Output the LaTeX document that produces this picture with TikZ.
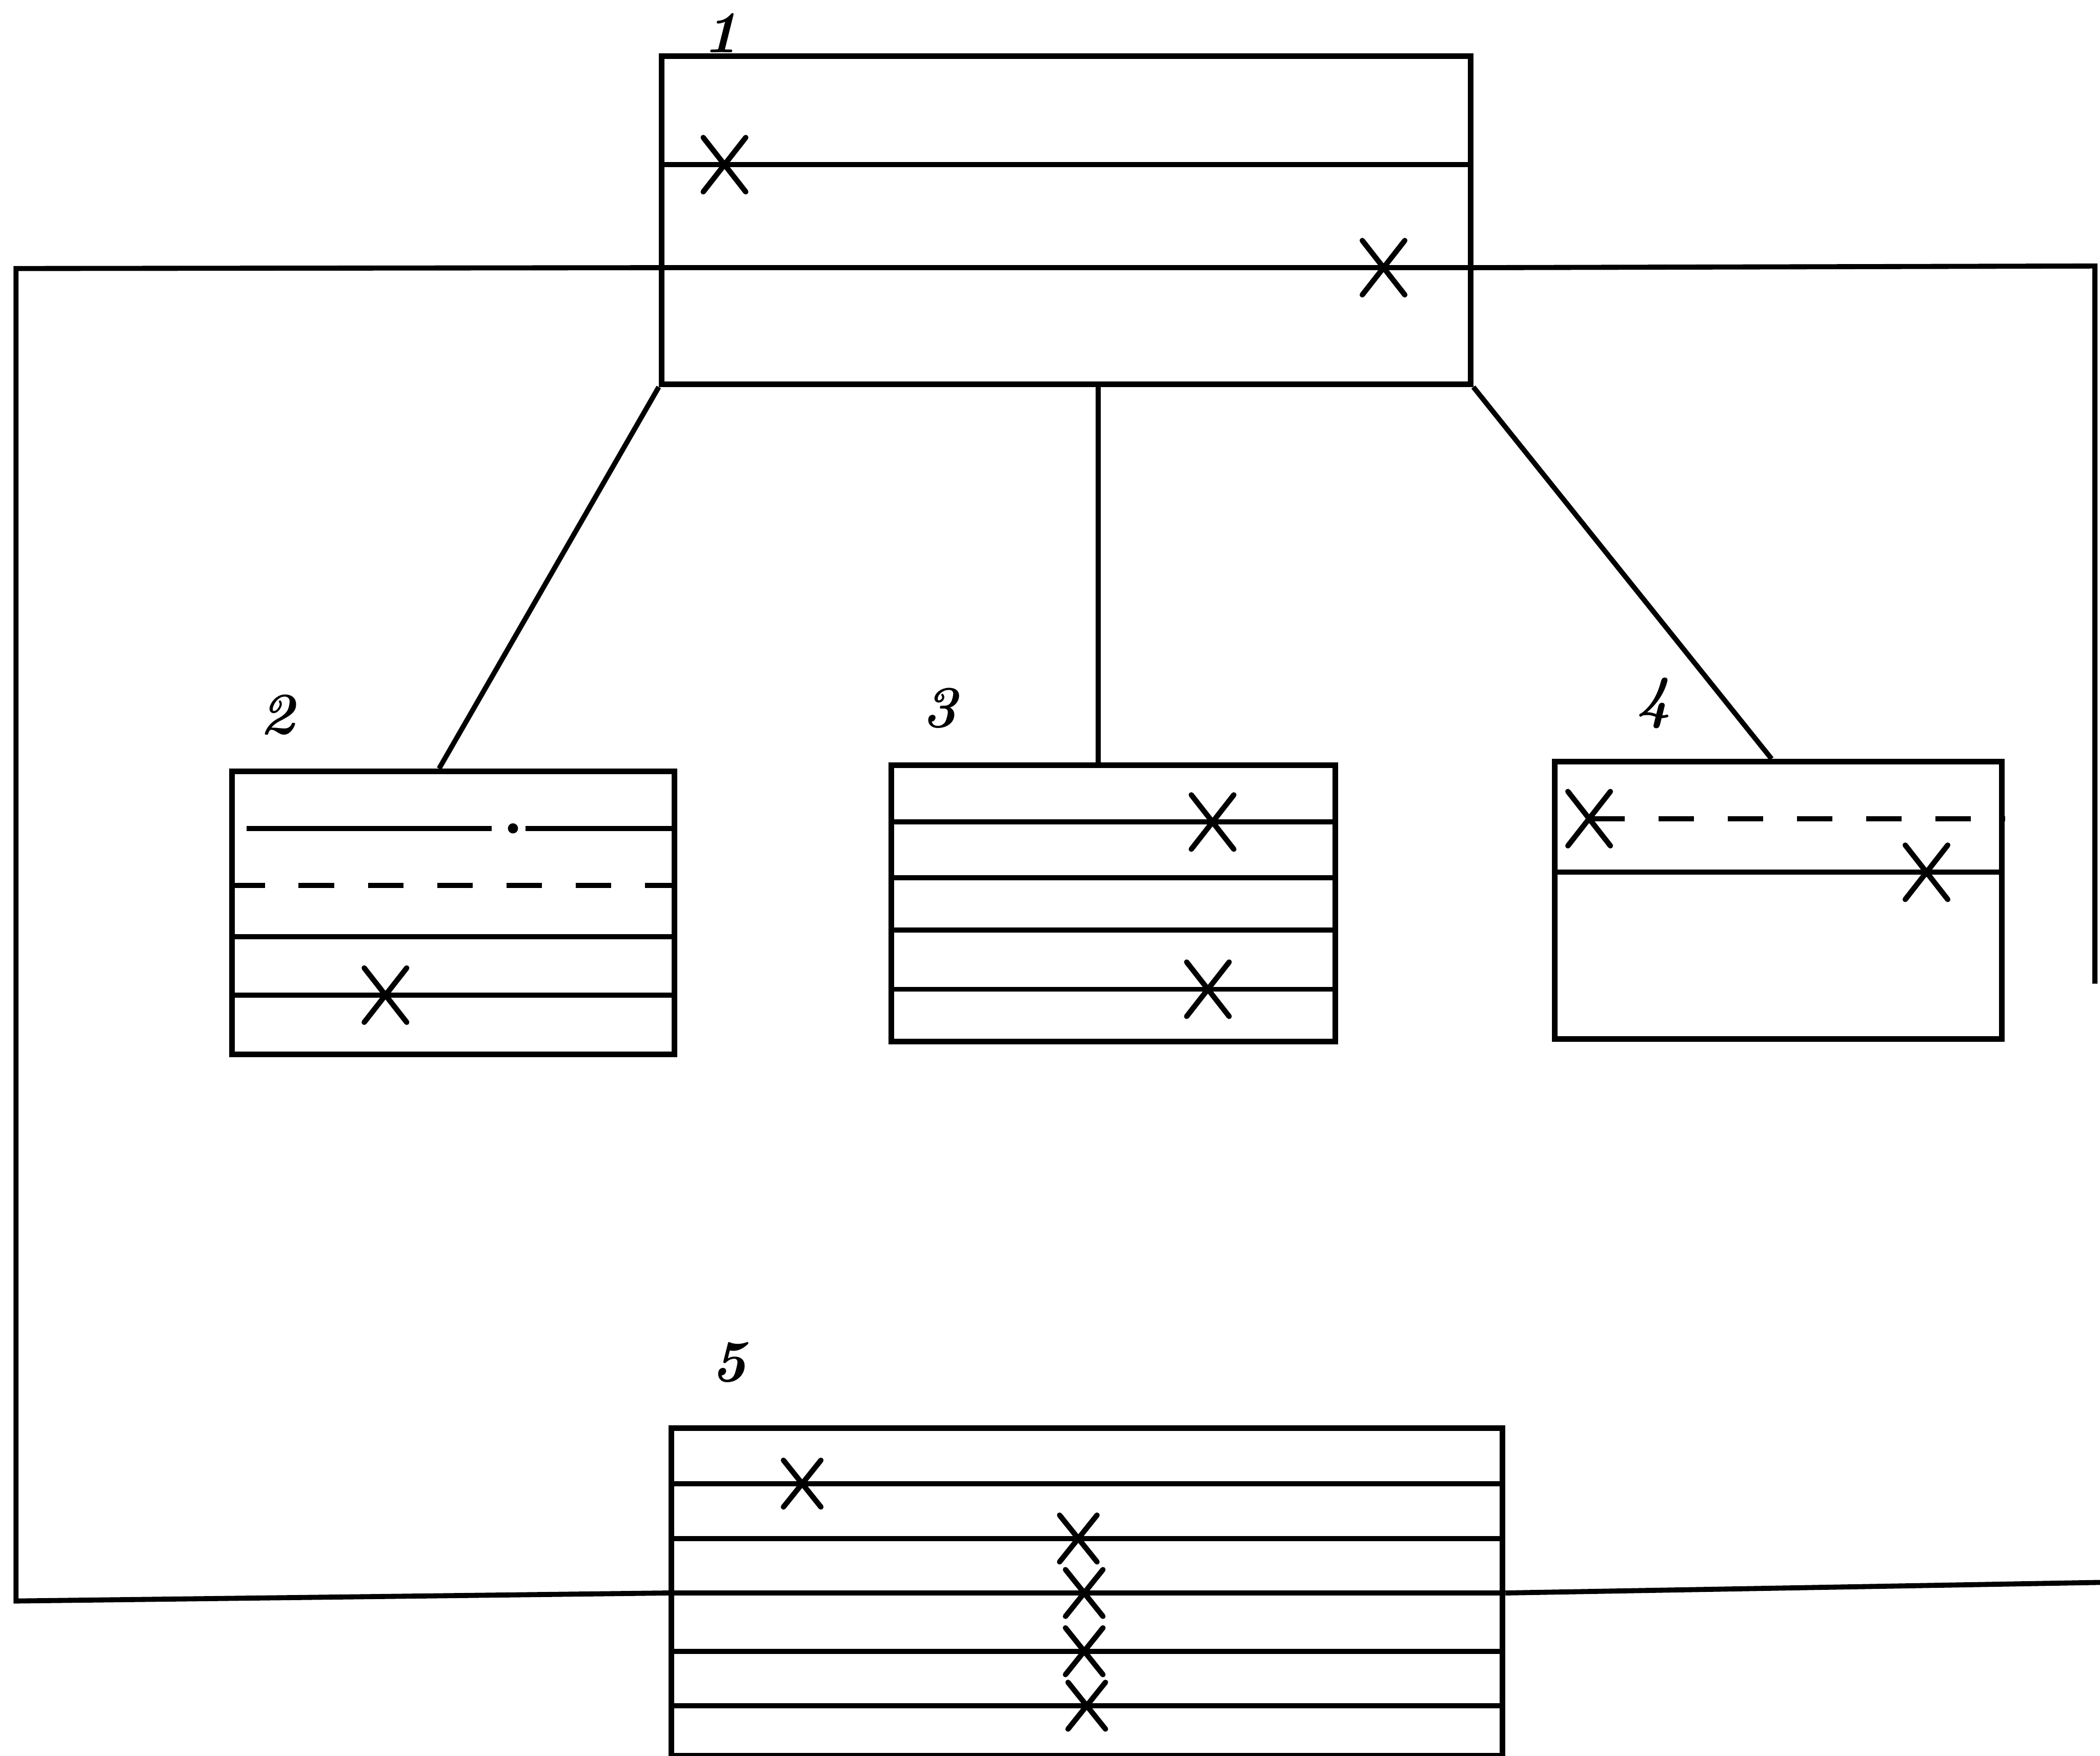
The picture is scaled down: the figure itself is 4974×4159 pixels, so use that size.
\documentclass[tikz,border=0pt]{standalone}
\usetikzlibrary{fit,shapes.misc}
\begin{document}
\begin{tikzpicture}[
  x=0.05mm, y=-0.05mm,
  fach/.style={draw=black, line width=1.9pt, inner sep=0pt},
  trenn/.style={line width=1.7pt, draw=black},
  gestrichelt/.style={trenn, dash pattern=on 4.2mm off 4mm},
  kreuz/.style={cross out, draw=black, line width=1.8pt, line cap=round, inner sep=0pt, minimum width=4.4mm, minimum height=5.8mm},
  kleinkreuz/.style={kreuz, minimum width=3.8mm, minimum height=4.9mm},
  nummer/.style={font=\fontsize{20}{24}\selectfont\bfseries\itshape, inner sep=0pt},
  leitung/.style={line width=1.7pt, draw=black}
]
  \useasboundingbox (0,0) rectangle (4974,4159);
  \clip (0,0) rectangle (4974,4159);

  % Kästen
  \node[fach, fit={(1567,133) (3483,910)}] (b1) {};
  \node[fach, fit={(550,1827) (1598,2497)}] (b2) {};
  \node[fach, fit={(2111,1812) (3163,2467)}] (b3) {};
  \node[fach, fit={(3683,1804) (4742,2461)}] (b4) {};
  \node[fach, fit={(1590,3382) (3559,4158)}] (b5) {};

  % Nummern
  \node[nummer] (n1) at (1707,78) {1};
  \node[nummer] (n2) at (657,1693) {2};
  \node[nummer] (n3) at (2226,1677) {3};
  \node[nummer] (n4) at (3917,1665) {4};
  \node[nummer] (n5) at (1727,3227) {5};

  % Linien in Kasten 1
  \foreach \y in {390,634}
    \draw[trenn] (b1.west |- 0,\y) -- (b1.east |- 0,\y);

  % Linien in Kasten 2
  \draw[trenn] (584,1962) -- (1165,1962);
  \fill (1215,1962) circle (0.6mm);
  \draw[trenn] (1245,1962) -- (b2.east |- 0,1962);
  \draw[gestrichelt] (b2.west |- 0,2097) -- (b2.east |- 0,2097);
  \foreach \y in {2219,2357}
    \draw[trenn] (b2.west |- 0,\y) -- (b2.east |- 0,\y);

  % Linien in Kasten 3
  \foreach \y in {1947,2079,2203,2343}
    \draw[trenn] (b3.west |- 0,\y) -- (b3.east |- 0,\y);

  % Linien in Kasten 4
  \draw[gestrichelt] (3764,1939) -- (b4.east |- 0,1939);
  \draw[trenn] (b4.west |- 0,2066) -- (b4.east |- 0,2066);

  % Linien in Kasten 5
  \foreach \y in {3514,3644,3773,3911,4040}
    \draw[trenn] (b5.west |- 0,\y) -- (b5.east |- 0,\y);

  % Kreuze
  \node[kreuz] (k1) at (1716,390) {};
  \node[kreuz] (k2) at (3277,634) {};
  \node[kreuz] (k3) at (913,2357) {};
  \node[kreuz] (k4) at (2872,1947) {};
  \node[kreuz] (k5) at (2861,2343) {};
  \node[kreuz] (k6) at (3764,1939) {};
  \node[kreuz] (k7) at (4563,2066) {};
  \node[kleinkreuz] (k8) at (1900,3514) {};
  \node[kleinkreuz] (k9) at (2554,3644) {};
  \node[kleinkreuz] (k10) at (2568,3773) {};
  \node[kleinkreuz] (k11) at (2568,3911) {};
  \node[kleinkreuz] (k12) at (2574,4040) {};

  % Verbindungen von Kasten 1 nach unten
  \draw[leitung] (b1.south west) -- (b2.north -| 1040,0);
  \draw[leitung] (b1.south -| 2601,0) -- (b3.north -| 2601,0);
  \draw[leitung] (b1.south east) -- (b4.north -| 4196,0);

  % Umlaufende Leitung
  \coordinate (ol) at (38,636);
  \coordinate (ul) at (38,3792);
  \coordinate (or) at (4962,630);
  \coordinate (ore) at (4962,2330);
  \coordinate (ur) at (4974,3748);
  \draw[leitung] (b1.west |- 0,634) -- (ol) -- (ul) -- (b5.west |- 0,3773);
  \draw[leitung] (b1.east |- 0,634) -- (or) -- (ore);
  \draw[leitung] (b5.east |- 0,3773) -- (ur);

\end{tikzpicture}
\end{document}
